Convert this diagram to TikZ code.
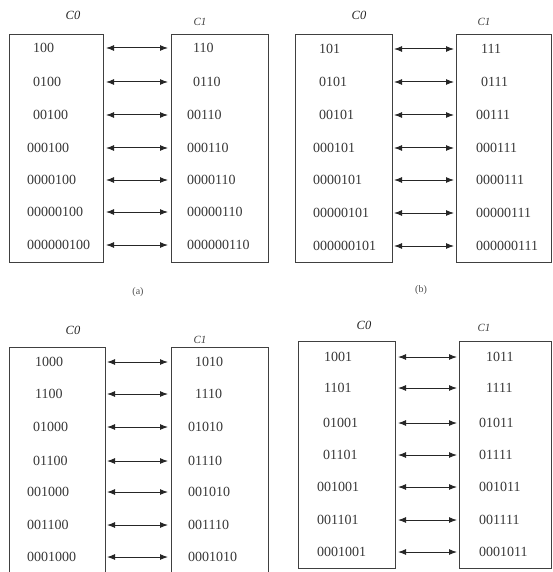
\documentclass[tikz,border=0pt]{standalone}
\usepackage{fontspec}
\setmainfont{Liberation Serif}
\usetikzlibrary{arrows.meta}
\begin{document}
\begin{tikzpicture}[x=1pt,y=-1pt,
  box/.style={draw=black!75,line width=1.1pt,anchor=north west,inner sep=0pt},
  lbl/.style={anchor=west,inner sep=0pt,font=\fontsize{14}{14}\selectfont,text=black!78},
  hdz/.style={inner sep=0pt,font=\fontsize{12.5}{13}\selectfont\itshape,text=black!85},
  hdo/.style={inner sep=0pt,font=\fontsize{11}{12}\selectfont\itshape,text=black!75},
  capt/.style={inner sep=0pt,font=\fontsize{10}{11}\selectfont,text=black!70},
  link/.style={{Latex[length=8pt,width=6pt]}-{Latex[length=8pt,width=6pt]},line width=1pt,draw=black!85}]
\useasboundingbox (0,0) rectangle (552,572);
% ---------------- panel (a)
\node[box,minimum width=94pt,minimum height=228pt] (aL) at (9,34) {};
\node[box,minimum width=97pt,minimum height=228pt] (aR) at (171,34) {};
\node[hdz] (aC0) at (73,15) {C0};
\node[hdo] (aC1) at (200,22) {C1};
\node[capt] (acap) at (138,292) {(a)};
\foreach \t/\x/\y/\i in {100/33/48/1,0100/33/82/2,00100/33/115/3,000100/27/148/4,0000100/27/180/5,00000100/27/212/6,000000100/27/245/7}
  \node[lbl] (aL\i) at (\x,\y) {\t};
\foreach \t/\x/\y/\i in {110/193/48/1,0110/193/82/2,00110/187/115/3,000110/187/148/4,0000110/187/180/5,00000110/187/212/6,000000110/187/245/7}
  \node[lbl] (aR\i) at (\x,\y) {\t};
\foreach \y/\i in {48/1,82/2,115/3,148/4,180/5,212/6,245/7}{
  \coordinate (aP\i) at (106,\y);
  \coordinate (aQ\i) at (168,\y);
  \draw[link] (aP\i) -- (aQ\i);}
% ---------------- panel (b)
\node[box,minimum width=97pt,minimum height=228pt] (bL) at (295,34) {};
\node[box,minimum width=95pt,minimum height=228pt] (bR) at (456,34) {};
\node[hdz] (bC0) at (359,15) {C0};
\node[hdo] (bC1) at (484,22) {C1};
\node[capt] (bcap) at (421,290) {(b)};
\foreach \t/\x/\y/\i in {101/319/49/1,0101/319/82/2,00101/319/115/3,000101/313/148/4,0000101/313/180/5,00000101/313/213/6,000000101/313/246/7}
  \node[lbl] (bL\i) at (\x,\y) {\t};
\foreach \t/\x/\y/\i in {111/481/49/1,0111/481/82/2,00111/476/115/3,000111/476/148/4,0000111/476/180/5,00000111/476/213/6,000000111/476/246/7}
  \node[lbl] (bR\i) at (\x,\y) {\t};
\foreach \y/\i in {49/1,82/2,115/3,148/4,180/5,213/6,246/7}{
  \coordinate (bP\i) at (394,\y);
  \coordinate (bQ\i) at (454,\y);
  \draw[link] (bP\i) -- (bQ\i);}
% ---------------- panel (c)
\node[box,minimum width=96pt,minimum height=240pt] (cL) at (9,347) {};
\node[box,minimum width=97pt,minimum height=240pt] (cR) at (171,347) {};
\node[hdz] (cC0) at (73,330) {C0};
\node[hdo] (cC1) at (200,340) {C1};
\foreach \t/\x/\y/\i in {1000/35/362/1,1100/35/394/2,01000/33/427/3,01100/33/461/4,001000/27/492/5,001100/27/525/6,0001000/27/557/7}
  \node[lbl] (cL\i) at (\x,\y) {\t};
\foreach \t/\x/\y/\i in {1010/195/362/1,1110/195/394/2,01010/188/427/3,01110/188/461/4,001010/188/492/5,001110/188/525/6,0001010/188/557/7}
  \node[lbl] (cR\i) at (\x,\y) {\t};
\foreach \y/\i in {362/1,394/2,427/3,461/4,492/5,525/6,557/7}{
  \coordinate (cP\i) at (107,\y);
  \coordinate (cQ\i) at (168,\y);
  \draw[link] (cP\i) -- (cQ\i);}
% ---------------- panel (d)
\node[box,minimum width=97pt,minimum height=227pt] (dL) at (298,341) {};
\node[box,minimum width=92pt,minimum height=227pt] (dR) at (459,341) {};
\node[hdz] (dC0) at (364,325) {C0};
\node[hdo] (dC1) at (484,328) {C1};
\foreach \t/\x/\y/\i in {1001/324/357/1,1101/324/388/2,01001/323/423/3,01101/323/455/4,001001/317/487/5,001101/317/520/6,0001001/317/552/7}
  \node[lbl] (dL\i) at (\x,\y) {\t};
\foreach \t/\x/\y/\i in {1011/486/357/1,1111/486/388/2,01011/479/423/3,01111/479/455/4,001011/479/487/5,001111/479/520/6,0001011/479/552/7}
  \node[lbl] (dR\i) at (\x,\y) {\t};
\foreach \y/\i in {357/1,388/2,423/3,455/4,487/5,520/6,552/7}{
  \coordinate (dP\i) at (398,\y);
  \coordinate (dQ\i) at (457,\y);
  \draw[link] (dP\i) -- (dQ\i);}
\end{tikzpicture}
\end{document}
